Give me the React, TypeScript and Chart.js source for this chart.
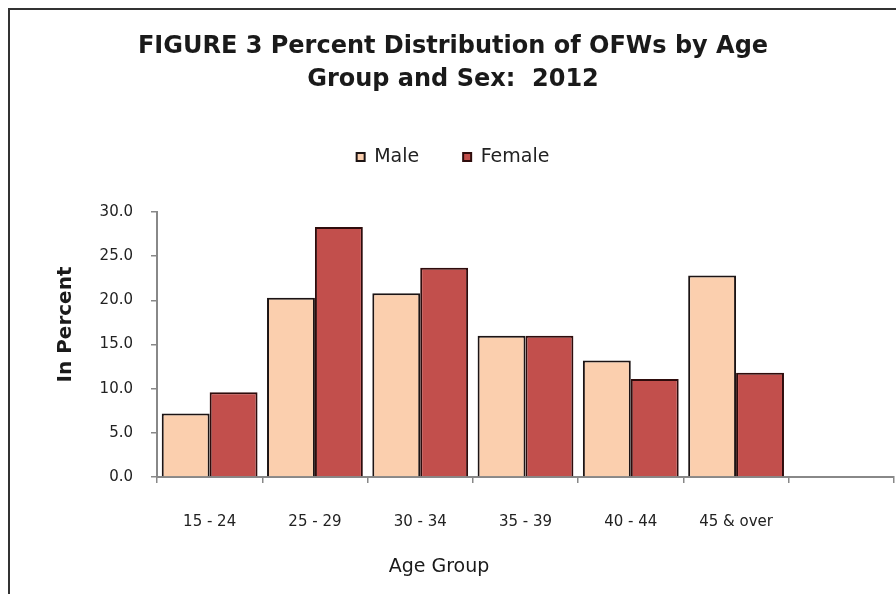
import React, { useEffect, useRef } from "react";
import { Chart, registerables } from "chart.js";

Chart.register(...registerables);

const categories = ["15 - 24", "25 - 29", "30 - 34", "35 - 39", "40 - 44", "45 & over", ""];
const maleValues = [7.2, 20.3, 20.8, 16.0, 13.2, 22.8, null];
const femaleValues = [9.6, 28.3, 23.7, 16.0, 11.1, 11.8, null];
const seriesNames = ["Male", "Female"];
const titleLines = ["FIGURE 3 Percent Distribution of OFWs by Age", "Group and Sex:  2012"];
const yAxisTitle = "In Percent";
const xAxisTitle = "Age Group";
const yMin = 0;
const yMax = 30;
const yStep = 5;

const FONT = "'DejaVu Sans', 'Liberation Sans', Arial, sans-serif";

const axisTitlePlugin = {
  id: "axisTitles",
  afterDraw(chart: any) {
    const { ctx, chartArea } = chart;
    ctx.save();
    ctx.fillStyle = "#1a1a1a";
    ctx.textAlign = "center";
    ctx.textBaseline = "middle";
    // y title
    ctx.save();
    ctx.translate(chartArea.left - 91, (chartArea.top + chartArea.bottom) / 2 - 20);
    ctx.rotate(-Math.PI / 2);
    ctx.font = `bold 20px ${FONT}`;
    ctx.fillText(yAxisTitle, 0, 0);
    ctx.restore();
    // x title
    ctx.font = `19px ${FONT}`;
    ctx.fillText(xAxisTitle, chartArea.left + 282, chartArea.bottom + 90);
    ctx.restore();
  },
};

export default function App() {
  const canvasRef = useRef<HTMLCanvasElement | null>(null);

  useEffect(() => {
    if (!canvasRef.current) return;
    const chart = new Chart(canvasRef.current, {
      type: "bar",
      data: {
        labels: categories,
        datasets: [
          {
            label: seriesNames[0],
            data: maleValues,
            backgroundColor: "#FBCFAE",
            borderColor: "#1c1414",
            borderWidth: 2,
            categoryPercentage: 0.91,
            barPercentage: 1,
          },
          {
            label: seriesNames[1],
            data: femaleValues,
            backgroundColor: "#C24F4C",
            borderColor: "#2e0c0c",
            borderWidth: 2,
            categoryPercentage: 0.91,
            barPercentage: 1,
          },
        ],
      },
      options: {
        responsive: true,
        maintainAspectRatio: false,
        animation: false,
        layout: { padding: { top: 0, left: 12, right: 2, bottom: 0 } },
        plugins: {
          title: {
            display: true,
            text: titleLines,
            color: "#1a1a1a",
            font: { family: FONT, size: 24, weight: "bold", lineHeight: 33 / 24 },
            padding: { top: 30, bottom: 7.5 },
          },
          legend: {
            position: "top",
            labels: {
              boxWidth: 8,
              boxHeight: 8,
              padding: 44,
              color: "#222",
              font: { family: FONT, size: 19 },
            },
          },
          tooltip: { enabled: false },
        },
        scales: {
          x: {
            type: "category",
            position: "bottom",
            grid: {
              display: true,
              drawOnChartArea: false,
              drawTicks: true,
              tickLength: 6,
              color: "#888",
              lineWidth: 1.5,
              offset: true,
            },
            border: { display: true, color: "#888", width: 2 },
            ticks: {
              color: "#222",
              font: { family: FONT, size: 15 },
              padding: 30,
              maxRotation: 0,
              autoSkip: false,
            },
            afterFit: (s: any) => {
              s.height = 117;
            },
          },
          x2: {
            type: "category",
            position: "top",
            display: true,
            grid: { display: false },
            border: { display: false },
            ticks: { display: false },
            afterFit: (s: any) => {
              s.height = 35.5;
            },
          },
          y: {
            min: yMin,
            max: yMax,
            grid: {
              display: true,
              drawOnChartArea: false,
              drawTicks: true,
              tickLength: 6,
              color: "#888",
              lineWidth: 1.5,
            },
            border: { display: true, color: "#888", width: 2 },
            ticks: {
              stepSize: yStep,
              color: "#222",
              font: { family: FONT, size: 15 },
              padding: 18,
              callback: (v: any) => Number(v).toFixed(1),
            },
            afterFit: (s: any) => {
              s.width = 145;
            },
          },
        },
      },
      plugins: [axisTitlePlugin],
    } as any);
    return () => chart.destroy();
  }, []);

  return (
    <div
      style={{
        position: "fixed",
        left: 0,
        top: 0,
        width: 896,
        height: 594,
        overflow: "hidden",
        background: "#fff",
      }}
    >
      <div
        style={{
          position: "absolute",
          left: 8,
          top: 8,
          width: 1000,
          height: 1000,
          borderTop: "2px solid #333",
          borderLeft: "2px solid #333",
        }}
      />
      <div style={{ position: "absolute", left: 0, top: 0, width: 896, height: 594 }}>
        <canvas ref={canvasRef} />
      </div>
    </div>
  );
}
